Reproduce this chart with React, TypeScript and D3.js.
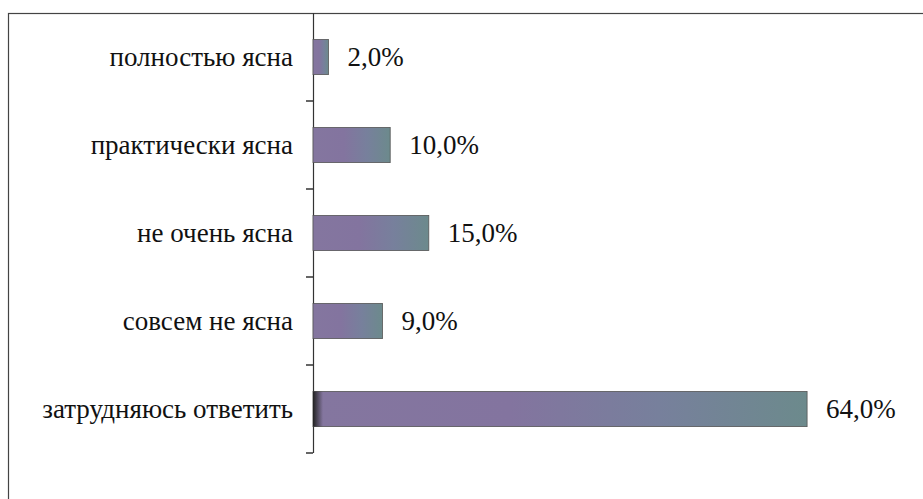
import React from "react";
import * as d3 from "d3";

// categories top to bottom and their shares (%)
const categories = [
  "полностью ясна",
  "практически ясна",
  "не очень ясна",
  "совсем не ясна",
  "затрудняюсь ответить",
];
const values = [2.0, 10.0, 15.0, 9.0, 64.0];

const fmt = (v: number) => v.toFixed(1).replace(".", ",") + "%";

const W = 923;
const H = 499;
const axisX = 313;
const font = "Liberation Serif";

export default function App() {
  const x = d3.scaleLinear().domain([0, 100]).range([axisX, axisX + 772]);
  const y = d3
    .scaleBand<string>()
    .domain(categories)
    .range([13, 453])
    .paddingInner(0.6)
    .paddingOuter(0.3);

  // tick marks sit on the band boundaries
  const step = y.step();
  const tickYs = categories.map((_, i) => 13 + step * (i + 1));

  return (
    <div style={{ position: "absolute", left: 0, top: 0 }}>
      <svg width={W} height={H} style={{ display: "block", background: "#fff" }}>
        <defs>
          <linearGradient id="barFill" x1="0" x2="1" y1="0" y2="0">
            <stop offset="0" stopColor="#84769f" />
            <stop offset="0.4" stopColor="#83749f" />
            <stop offset="0.7" stopColor="#77809c" />
            <stop offset="1" stopColor="#6c8a8c" />
          </linearGradient>
          <linearGradient id="barEdge" x1="0" x2="1" y1="0" y2="0">
            <stop offset="0" stopColor="#222" />
            <stop offset="1" stopColor="#222" stopOpacity="0" />
          </linearGradient>
        </defs>

        {/* outer frame, runs off the right and bottom edges */}
        <rect x={8.5} y={13.5} width={W} height={H} fill="none" stroke="#444" strokeWidth={1.2} />

        {/* category axis */}
        <line x1={axisX + 0.5} x2={axisX + 0.5} y1={13} y2={453} stroke="#333" strokeWidth={1.2} />
        {tickYs.map((ty, i) => (
          <line key={i} x1={axisX - 7} x2={axisX} y1={ty} y2={ty} stroke="#333" strokeWidth={1.5} />
        ))}

        {categories.map((c, i) => {
          const by = y(c)!;
          const bw = x(values[i]) - x(0);
          const cy = by + y.bandwidth() / 2;
          return (
            <g key={c}>
              <rect
                x={x(0)}
                y={by}
                width={bw}
                height={y.bandwidth()}
                fill="url(#barFill)"
                stroke="#555"
                strokeWidth={0.8}
              />
              {bw > 300 && (
                <rect x={x(0)} y={by} width={10} height={y.bandwidth()} fill="url(#barEdge)" />
              )}
              <text
                x={axisX - 20}
                y={cy}
                dy="0.33em"
                textAnchor="end"
                fontSize={27}
                fontFamily={font}
                fill="#111"
              >
                {c}
              </text>
              <text
                x={x(values[i]) + 19}
                y={cy}
                dy="0.33em"
                fontSize={27}
                fontFamily={font}
                fill="#111"
              >
                {fmt(values[i])}
              </text>
            </g>
          );
        })}
      </svg>
    </div>
  );
}
